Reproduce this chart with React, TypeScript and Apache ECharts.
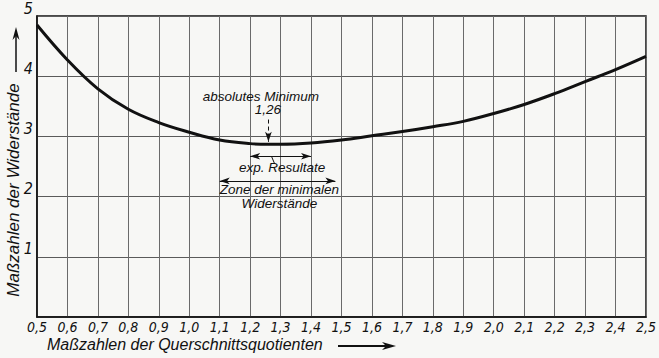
import React, { useEffect, useRef } from "react";
import * as echarts from "echarts";

const quotients = [0.5, 0.6, 0.7, 0.8, 0.9, 1.0, 1.1, 1.2, 1.26, 1.3, 1.4, 1.5, 1.6, 1.7, 1.8, 1.9, 2.0, 2.1, 2.2, 2.3, 2.4, 2.5];
const resistances = [4.85, 4.27, 3.79, 3.45, 3.23, 3.07, 2.94, 2.88, 2.87, 2.87, 2.89, 2.94, 3.01, 3.08, 3.16, 3.25, 3.38, 3.53, 3.71, 3.91, 4.11, 4.33];

const absMinimum = 1.26;
const expRange = [1.2, 1.4];
const zoneRange = [1.1, 1.48];

const FONT = "'DejaVu Sans Condensed', 'Liberation Sans Narrow', 'Liberation Sans', sans-serif";
const FONT2 = "'Liberation Sans', sans-serif";

export default function App() {
  const ref = useRef<HTMLDivElement>(null);
  useEffect(() => {
    document.body.style.margin = "0";
    document.body.style.background = "#f7f7f5";
    const chart = echarts.init(ref.current!, undefined, { renderer: "svg" });
    const txt = (text: string, x: number, y: number, size = 13.5) => ({
      coord: [x, y],
      symbol: "circle",
      symbolSize: 1,
      itemStyle: { color: "transparent" },
      label: {
        show: true,
        position: "inside",
        formatter: text,
        color: "#111",
        fontSize: size,
        fontStyle: "italic",
        fontFamily: FONT2,
      },
    });
    chart.setOption({
      animation: false,
      backgroundColor: "#f7f7f5",
      grid: { left: 37, right: 8, top: 12, bottom: 41, show: true, borderColor: "#111", borderWidth: 1.5 },
      xAxis: {
        type: "value",
        min: 0.5,
        max: 2.5,
        interval: 0.1,
        axisLine: { show: true, lineStyle: { color: "#111", width: 1.5 } },
        axisTick: { show: false },
        splitLine: { show: true, lineStyle: { color: "#6a6a6a", width: 1 } },
        axisLabel: {
          color: "#111",
          fontSize: 14,
          fontStyle: "italic",
          fontFamily: FONT,
          margin: 3,
          formatter: (v: number) => v.toFixed(1).replace(".", ","),
        },
      },
      yAxis: {
        type: "value",
        min: 0,
        max: 5,
        interval: 1,
        axisLine: { show: true, lineStyle: { color: "#111", width: 1.5 } },
        axisTick: { show: false },
        splitLine: { show: true, lineStyle: { color: "#5a5a5a", width: 1 } },
        axisLabel: {
          color: "#111",
          fontSize: 16,
          fontStyle: "italic",
          fontFamily: FONT,
          margin: 4,
          verticalAlign: "bottom",
          formatter: (v: number) => (v === 0 ? "" : String(v)),
        },
      },
      graphic: [
        {
          type: "text",
          x: 13,
          y: 190,
          rotation: Math.PI / 2,
          style: {
            text: "Maßzahlen der Widerstände",
            fill: "#111",
            fontSize: 17,
            fontStyle: "italic",
            fontFamily: FONT2,
            textAlign: "center",
            textVerticalAlign: "middle",
          },
        },
        {
          type: "text",
          left: 47,
          top: 336,
          style: { text: "Maßzahlen der Querschnittsquotienten", fill: "#111", fontSize: 16, fontStyle: "italic", fontFamily: FONT2 },
        },
        { type: "line", shape: { x1: 338, y1: 346, x2: 388, y2: 346 }, style: { stroke: "#111", lineWidth: 2 } },
        { type: "polygon", shape: { points: [[396, 346], [382, 342], [386, 346], [382, 350]] }, style: { fill: "#111" } },
        { type: "line", shape: { x1: 16, y1: 35, x2: 16, y2: 72 }, style: { stroke: "#111", lineWidth: 1.5 } },
        { type: "polygon", shape: { points: [[16, 27], [12.5, 40], [16, 36], [19.5, 40]] }, style: { fill: "#111" } },
      ],
      series: [
        {
          type: "line",
          data: quotients.map((q, i) => [q, resistances[i]]),
          smooth: 0.4,
          showSymbol: false,
          lineStyle: { color: "#111", width: 3 },
          markLine: {
            silent: true,
            label: { show: false },
            lineStyle: { color: "#111", width: 1, type: "solid" },
            symbol: ["arrow", "arrow"],
            symbolSize: [5, 10],
            data: [
              [
                { coord: [absMinimum, 3.28], symbol: "none", lineStyle: { type: [4, 3], color: "#111", width: 1 } },
                { coord: [absMinimum, 2.91], symbol: "arrow" },
              ],
              [{ coord: [expRange[0], 2.67] }, { coord: [expRange[1], 2.67] }],
              [
                { coord: [1.27, 2.67], symbol: "none" },
                { coord: [1.28, 2.55], symbol: "none" },
              ],
              [{ coord: [zoneRange[0], 2.26] }, { coord: [zoneRange[1], 2.26] }],
            ],
          },
          markPoint: {
            silent: true,
            data: [
              txt("absolutes Minimum", 1.235, 3.67),
              txt("1,26", 1.258, 3.44),
              txt("exp. Resultate", 1.305, 2.48),
              txt("Zone der minimalen", 1.296, 2.12),
              txt("Widerstände", 1.296, 1.89),
            ],
          },
        },
      ],
    });
    return () => chart.dispose();
  }, []);
  return <div ref={ref} style={{ width: 659, height: 358 }} />;
}
